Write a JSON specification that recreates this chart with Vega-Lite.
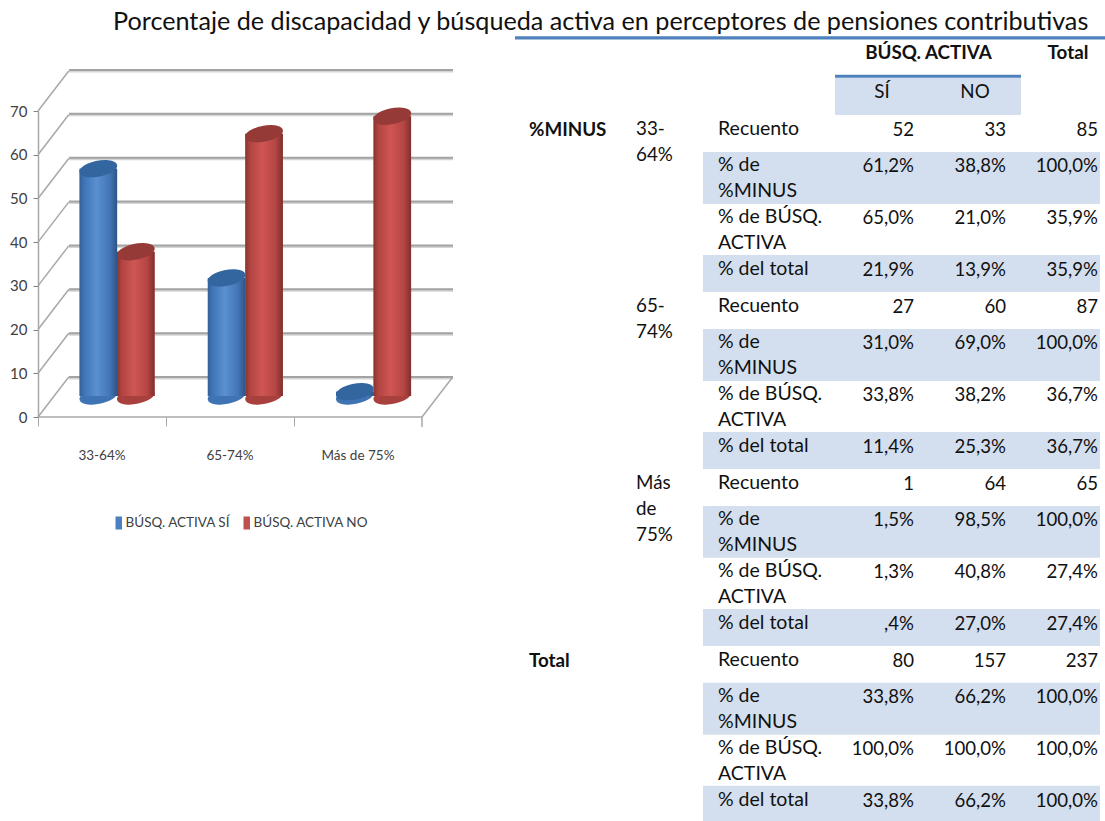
{"$schema":"https://vega.github.io/schema/vega-lite/v6.json","width":1105,"height":821,"padding":0,"autosize":"none","background":"white",
"title":{"text":"Porcentaje de discapacidad y búsqueda activa en perceptores de pensiones contributivas","font":"Lato","fontSize":25.2,"fontWeight":"normal","color":"#111111","anchor":"start","frame":"group","dx":113,"offset":-35},
"config":{"view":{"stroke":null}},
"datasets":{
"barras":[{"tramo":"33-64%","serie":"BÚSQ. ACTIVA SÍ","valor":52},{"tramo":"33-64%","serie":"BÚSQ. ACTIVA NO","valor":33},{"tramo":"65-74%","serie":"BÚSQ. ACTIVA SÍ","valor":27},{"tramo":"65-74%","serie":"BÚSQ. ACTIVA NO","valor":60},{"tramo":"Más de 75%","serie":"BÚSQ. ACTIVA SÍ","valor":1},{"tramo":"Más de 75%","serie":"BÚSQ. ACTIVA NO","valor":64}],
"alambre":[
{"a":0,"b":0,"a2":3},
{"a":0,"b":10,"a2":3},
{"a":0,"b":20,"a2":3},
{"a":0,"b":30,"a2":3},
{"a":0,"b":40,"a2":3},
{"a":0,"b":50,"a2":3},
{"a":0,"b":60,"a2":3},
{"a":0,"b":70,"a2":3}],
"diagonales":[
{"a":0,"b":0,"a2":0.24,"b2":9.15},{"a":0,"b":10,"a2":0.24,"b2":19.15},{"a":0,"b":20,"a2":0.24,"b2":29.15},{"a":0,"b":30,"a2":0.24,"b2":39.15},{"a":0,"b":40,"a2":0.24,"b2":49.15},{"a":0,"b":50,"a2":0.24,"b2":59.15},{"a":0,"b":60,"a2":0.24,"b2":69.15},{"a":0,"b":70,"a2":0.24,"b2":79.15},
{"a":3,"b":0,"a2":3.24,"b2":9.15},{"a":0,"b":0,"a2":3,"b2":0},{"a":3,"b":0,"a2":3,"b2":-2.3}],
"filas":[
{"linea":0,"medida":"Recuento","SÍ":"52","NO":"33","Total":"85"},
{"linea":2.85,"medida":"% de\n%MINUS","SÍ":"61,2%","NO":"38,8%","Total":"100,0%"},
{"linea":7,"medida":"% de BÚSQ.\nACTIVA","SÍ":"65,0%","NO":"21,0%","Total":"35,9%"},
{"linea":11.05,"medida":"% del total","SÍ":"21,9%","NO":"13,9%","Total":"35,9%"},
{"linea":14,"medida":"Recuento","SÍ":"27","NO":"60","Total":"87"},
{"linea":16.85,"medida":"% de\n%MINUS","SÍ":"31,0%","NO":"69,0%","Total":"100,0%"},
{"linea":21,"medida":"% de BÚSQ.\nACTIVA","SÍ":"33,8%","NO":"38,2%","Total":"36,7%"},
{"linea":25.05,"medida":"% del total","SÍ":"11,4%","NO":"25,3%","Total":"36,7%"},
{"linea":28,"medida":"Recuento","SÍ":"1","NO":"64","Total":"65"},
{"linea":30.85,"medida":"% de\n%MINUS","SÍ":"1,5%","NO":"98,5%","Total":"100,0%"},
{"linea":35,"medida":"% de BÚSQ.\nACTIVA","SÍ":"1,3%","NO":"40,8%","Total":"27,4%"},
{"linea":39.05,"medida":"% del total","SÍ":",4%","NO":"27,0%","Total":"27,4%"},
{"linea":42,"medida":"Recuento","SÍ":"80","NO":"157","Total":"237"},
{"linea":44.85,"medida":"% de\n%MINUS","SÍ":"33,8%","NO":"66,2%","Total":"100,0%"},
{"linea":49,"medida":"% de BÚSQ.\nACTIVA","SÍ":"100,0%","NO":"100,0%","Total":"100,0%"},
{"linea":53.05,"medida":"% del total","SÍ":"33,8%","NO":"66,2%","Total":"100,0%"}],
"sombras":[{"bloque":"medidas","desde":1.82,"hasta":5.93},{"bloque":"medidas","desde":9.97,"hasta":12.9},{"bloque":"medidas","desde":15.82,"hasta":19.93},{"bloque":"medidas","desde":23.97,"hasta":26.9},{"bloque":"medidas","desde":29.82,"hasta":33.93},{"bloque":"medidas","desde":37.97,"hasta":40.9},{"bloque":"medidas","desde":43.82,"hasta":47.93},{"bloque":"medidas","desde":51.97,"hasta":54.9}]
},
"resolve":{"scale":{"x":"independent","y":"independent","color":"independent"},"axis":{"x":"independent","y":"independent"},"legend":{"color":"independent"}},
"layer":[
{"data":{"name":"alambre"},"mark":{"type":"rule","color":"#d4d4d4","strokeWidth":3,"yOffset":1},
 "encoding":{"x":{"field":"a","type":"quantitative","axis":null,"scale":{"domain":[0,3],"range":[69,453],"nice":false,"zero":false}},"x2":{"field":"a2"},"y":{"field":"b","type":"quantitative","axis":null,"scale":{"domain":[0,70],"range":[377,70],"nice":false,"zero":false}}}},
{"data":{"name":"alambre"},"mark":{"type":"rule","color":"#a3a3a3","strokeWidth":2},
 "encoding":{"x":{"field":"a","type":"quantitative","axis":null,"scale":{"domain":[0,3],"range":[69,453],"nice":false,"zero":false}},"x2":{"field":"a2"},"y":{"field":"b","type":"quantitative","axis":null,"scale":{"domain":[0,70],"range":[377,70],"nice":false,"zero":false}}}},
{"data":{"name":"diagonales"},"mark":{"type":"rule","color":"#a8a8a8","strokeWidth":1.5},
 "encoding":{"x":{"field":"a","type":"quantitative","axis":null,"scale":{"domain":[0,3],"range":[38,422],"nice":false,"zero":false}},"x2":{"field":"a2"},
 "y":{"field":"b","type":"quantitative","scale":{"domain":[0,70],"range":[417,111],"nice":false,"zero":false},"axis":{"title":null,"orient":"left","offset":-38,"values":[0,10,20,30,40,50,60,70],"grid":false,"domainColor":"#a8a8a8","domainWidth":1.5,"tickColor":"#808080","tickSize":5,"labelFont":"Lato","labelFontSize":15,"labelColor":"#404040","labelPadding":6}},"y2":{"field":"b2"}}},
{"data":{"name":"barras"},"mark":{"type":"tick","opacity":0},
 "encoding":{"x":{"field":"tramo","type":"nominal","sort":null,"scale":{"type":"band","domain":["33-64%","65-74%","Más de 75%"],"range":[38,422],"paddingInner":0,"paddingOuter":0},"axis":{"title":null,"orient":"bottom","offset":-404,"bandPosition":0,"domain":false,"tickColor":"#a8a8a8","tickSize":9,"labelAngle":0,"labelAlign":"center","labelFont":"Lato","labelFontSize":13.5,"labelColor":"#404040","labelPadding":29,"labelBaseline":"middle"}}}},
{"data":{"name":"barras"},"mark":{"type":"point","filled":true,"opacity":1,"size":1406,"shape":"M-1,0.2A1.02,0.42,-11,1,1,1,-0.2A1.02,0.42,-11,1,1,-1,0.2Z"},
 "encoding":{"x":{"field":"tramo","type":"nominal","axis":null,"scale":{"type":"band","domain":["33-64%","65-74%","Más de 75%"],"range":[53,437.7],"paddingInner":0,"paddingOuter":0}},"xOffset":{"field":"serie","type":"nominal","scale":{"domain":["BÚSQ. ACTIVA SÍ","BÚSQ. ACTIVA NO"],"range":[26.6,101.6]}},
 "y":{"datum":0,"type":"quantitative","axis":null,"scale":{"domain":[0,70],"range":[396,90],"nice":false}},
 "color":{"field":"serie","type":"nominal","legend":null,"scale":{"domain":["BÚSQ. ACTIVA SÍ","BÚSQ. ACTIVA NO"],"range":["#3f74b4","#a8403d"]}}}},
{"data":{"name":"barras"},"mark":{"type":"bar","stroke":null},
 "encoding":{"x":{"field":"tramo","type":"nominal","axis":null,"scale":{"type":"band","domain":["33-64%","65-74%","Más de 75%"],"range":[53,437.7],"paddingInner":0,"paddingOuter":0}},"xOffset":{"field":"serie","type":"nominal","scale":{"domain":["BÚSQ. ACTIVA SÍ","BÚSQ. ACTIVA NO"],"range":[26.6,101.6]}},
 "y":{"field":"valor","type":"quantitative","stack":null,"axis":null,"scale":{"domain":[0,70],"range":[396,90],"nice":false}},
 "color":{"field":"serie","type":"nominal","scale":{"domain":["BÚSQ. ACTIVA SÍ","BÚSQ. ACTIVA NO"],"range":["#4a80c0","#c0504d"]},
 "legend":{"title":null,"orient":"none","legendX":112,"legendY":512,"direction":"horizontal","columns":2,"columnPadding":9,"symbolType":"M-0.5,-1H0.5V1H-0.5Z","symbolSize":169,"symbolStrokeWidth":0,"labelFont":"Lato","labelFontSize":13.5,"labelColor":"#404040","labelOffset":0,"clipHeight":22}}}},
{"data":{"name":"barras"},"transform":[{"filter":"datum.serie==='BÚSQ. ACTIVA SÍ'"}],"mark":{"type":"bar","fill":{"gradient":"linear","x1":0,"x2":1,"y1":0,"y2":0,"stops":[{"offset":0,"color":"#355f99"},{"offset":0.12,"color":"#3f74b6"},{"offset":0.45,"color":"#5a90d0"},{"offset":0.8,"color":"#4376b6"},{"offset":1,"color":"#2c5588"}]}},
 "encoding":{"x":{"field":"tramo","type":"nominal","axis":null,"scale":{"type":"band","domain":["33-64%","65-74%","Más de 75%"],"range":[53,437.7],"paddingInner":0,"paddingOuter":0}},"xOffset":{"field":"serie","type":"nominal","scale":{"domain":["BÚSQ. ACTIVA SÍ","BÚSQ. ACTIVA NO"],"range":[26.6,101.6]}},
 "y":{"field":"valor","type":"quantitative","stack":null,"axis":null,"scale":{"domain":[0,70],"range":[396,90],"nice":false}}}},
{"data":{"name":"barras"},"transform":[{"filter":"datum.serie==='BÚSQ. ACTIVA NO'"}],"mark":{"type":"bar","fill":{"gradient":"linear","x1":0,"x2":1,"y1":0,"y2":0,"stops":[{"offset":0,"color":"#873330"},{"offset":0.12,"color":"#b04441"},{"offset":0.45,"color":"#cf5653"},{"offset":0.8,"color":"#b54643"},{"offset":1,"color":"#7f302d"}]}},
 "encoding":{"x":{"field":"tramo","type":"nominal","axis":null,"scale":{"type":"band","domain":["33-64%","65-74%","Más de 75%"],"range":[53,437.7],"paddingInner":0,"paddingOuter":0}},"xOffset":{"field":"serie","type":"nominal","scale":{"domain":["BÚSQ. ACTIVA SÍ","BÚSQ. ACTIVA NO"],"range":[26.6,101.6]}},
 "y":{"field":"valor","type":"quantitative","stack":null,"axis":null,"scale":{"domain":[0,70],"range":[396,90],"nice":false}}}},
{"data":{"name":"barras"},"mark":{"type":"point","filled":true,"opacity":1,"size":1406,"shape":"M-1,0.2A1.02,0.42,-11,1,1,1,-0.2A1.02,0.42,-11,1,1,-1,0.2Z"},
 "encoding":{"x":{"field":"tramo","type":"nominal","axis":null,"scale":{"type":"band","domain":["33-64%","65-74%","Más de 75%"],"range":[53,437.7],"paddingInner":0,"paddingOuter":0}},"xOffset":{"field":"serie","type":"nominal","scale":{"domain":["BÚSQ. ACTIVA SÍ","BÚSQ. ACTIVA NO"],"range":[26.6,101.6]}},
 "y":{"field":"valor","type":"quantitative","axis":null,"scale":{"domain":[0,70],"range":[396,90],"nice":false}},
 "color":{"field":"serie","type":"nominal","legend":null,"scale":{"domain":["BÚSQ. ACTIVA SÍ","BÚSQ. ACTIVA NO"],"range":["#33669f","#963a38"]}}}},
{"data":{"name":"sombras"},"mark":{"type":"rect","color":"#d3dfee"},
 "encoding":{"x":{"field":"bloque","type":"nominal","axis":null,"scale":{"type":"band","domain":["medidas"],"range":[703,1100],"paddingInner":0,"paddingOuter":0}},"y":{"field":"desde","type":"quantitative","axis":null,"scale":{"domain":[0,56],"range":[129,836.8],"nice":false,"zero":false}},"y2":{"field":"hasta"}}},
{"data":{"values":[{"bloque":"cabecera","desde":-4.05,"hasta":-1.1}]},"mark":{"type":"rect","color":"#d3dfee"},
 "encoding":{"x":{"field":"bloque","type":"nominal","axis":null,"scale":{"type":"band","domain":["cabecera"],"range":[835,1021],"paddingInner":0,"paddingOuter":0}},"y":{"field":"desde","type":"quantitative","axis":null,"scale":{"domain":[0,56],"range":[129,836.8],"nice":false,"zero":false}},"y2":{"field":"hasta"}}},
{"data":{"values":[{"bloque":"cabecera","desde":-4.3,"hasta":-4.05}]},"mark":{"type":"rect","color":"#4f81bd"},
 "encoding":{"x":{"field":"bloque","type":"nominal","axis":null,"scale":{"type":"band","domain":["cabecera"],"range":[835,1021],"paddingInner":0,"paddingOuter":0}},"y":{"field":"desde","type":"quantitative","axis":null,"scale":{"domain":[0,56],"range":[129,836.8],"nice":false,"zero":false}},"y2":{"field":"hasta"}}},
{"data":{"values":[{"bloque":"titulo","desde":-7.33,"hasta":-7.08}]},"mark":{"type":"rect","color":"#4f81bd"},
 "encoding":{"x":{"field":"bloque","type":"nominal","axis":null,"scale":{"type":"band","domain":["titulo"],"range":[515,1105],"paddingInner":0,"paddingOuter":0}},"y":{"field":"desde","type":"quantitative","axis":null,"scale":{"domain":[0,56],"range":[129,836.8],"nice":false,"zero":false}},"y2":{"field":"hasta"}}},
{"data":{"values":[{"col":"SÍ","linea":-2.93},{"col":"NO","linea":-2.93}]},"mark":{"type":"text","font":"Lato","fontSize":18.8,"color":"#111111","align":"center","baseline":"middle"},
 "encoding":{"x":{"field":"col","type":"nominal","axis":null,"scale":{"type":"point","domain":["SÍ","BÚSQ. ACTIVA","NO","hueco","Total"],"range":[882,1068],"padding":0}},"y":{"field":"linea","type":"quantitative","axis":null,"scale":{"domain":[0,56],"range":[129,836.8],"nice":false,"zero":false}},"text":{"field":"col"}}},
{"data":{"values":[{"col":"BÚSQ. ACTIVA","linea":-6},{"col":"Total","linea":-6}]},"mark":{"type":"text","font":"Lato","fontSize":18.8,"fontWeight":"bold","color":"#111111","align":"center","baseline":"middle"},
 "encoding":{"x":{"field":"col","type":"nominal","axis":null,"scale":{"type":"point","domain":["SÍ","BÚSQ. ACTIVA","NO","hueco","Total"],"range":[882,1068],"padding":0}},"y":{"field":"linea","type":"quantitative","axis":null,"scale":{"domain":[0,56],"range":[129,836.8],"nice":false,"zero":false}},"text":{"field":"col"}}},
{"data":{"values":[{"col":"grupo","linea":0,"texto":"%MINUS"},{"col":"grupo","linea":42,"texto":"Total"}]},"mark":{"type":"text","font":"Lato","fontSize":18.8,"fontWeight":"bold","color":"#111111","align":"left","baseline":"middle","dy":1},
 "encoding":{"x":{"field":"col","type":"nominal","axis":null,"scale":{"type":"point","domain":["grupo"],"range":[529,529]}},"y":{"field":"linea","type":"quantitative","axis":null,"scale":{"domain":[0,56],"range":[129,836.8],"nice":false,"zero":false}},"text":{"field":"texto"}}},
{"data":{"values":[{"col":"tramo","linea":0,"texto":"33-\n64%"},{"col":"tramo","linea":14,"texto":"65-\n74%"},{"col":"tramo","linea":28,"texto":"Más\nde\n75%"}]},"mark":{"type":"text","font":"Lato","fontSize":18.8,"color":"#111111","align":"left","baseline":"alphabetic","dy":6,"lineBreak":"\n","lineHeight":26},
 "encoding":{"x":{"field":"col","type":"nominal","axis":null,"scale":{"type":"point","domain":["tramo"],"range":[636,636]}},"y":{"field":"linea","type":"quantitative","axis":null,"scale":{"domain":[0,56],"range":[129,836.8],"nice":false,"zero":false}},"text":{"field":"texto"}}},
{"data":{"name":"filas"},"transform":[{"calculate":"'medida'","as":"col"}],"mark":{"type":"text","font":"Lato","fontSize":19.5,"color":"#111111","align":"left","baseline":"alphabetic","dy":6,"lineBreak":"\n","lineHeight":26},
 "encoding":{"x":{"field":"col","type":"nominal","axis":null,"scale":{"type":"point","domain":["medida"],"range":[718,718]}},"y":{"field":"linea","type":"quantitative","axis":null,"scale":{"domain":[0,56],"range":[129,836.8],"nice":false,"zero":false}},"text":{"field":"medida"}}},
{"data":{"name":"filas"},"transform":[{"fold":["SÍ","NO","Total"],"as":["col","val"]}],"mark":{"type":"text","font":"Lato","fontSize":18.6,"color":"#111111","align":"right","baseline":"middle","dy":1},
 "encoding":{"x":{"field":"col","type":"nominal","axis":null,"scale":{"type":"point","domain":["SÍ","NO","Total"],"range":[914,1098],"padding":0}},"y":{"field":"linea","type":"quantitative","axis":null,"scale":{"domain":[0,56],"range":[129,836.8],"nice":false,"zero":false}},"text":{"field":"val"}}}
]}
